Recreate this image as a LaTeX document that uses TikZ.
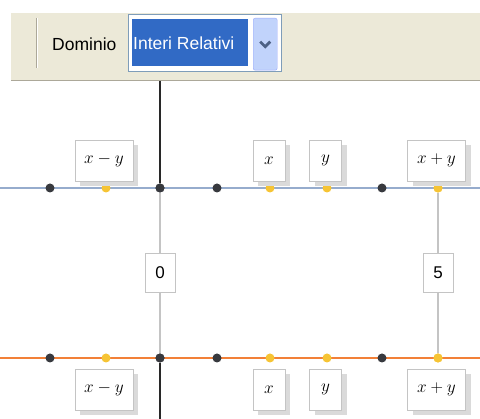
\documentclass[tikz,border=0pt]{standalone}
\usepackage{fontspec}
\setmainfont{Liberation Sans}
\usetikzlibrary{positioning,calc,shadows}
\definecolor{barbg}{RGB}{236,233,216}
\definecolor{barline}{RGB}{172,168,153}
\definecolor{combobd}{RGB}{127,157,185}
\definecolor{selblue}{RGB}{49,106,197}
\definecolor{btnblue}{RGB}{193,211,251}
\definecolor{chevron}{RGB}{77,97,133}
\definecolor{toplinec}{RGB}{150,172,205}
\definecolor{botlinec}{RGB}{242,128,56}
\definecolor{dotdark}{RGB}{55,57,62}
\definecolor{dotyel}{RGB}{246,196,52}
\definecolor{boxgray}{RGB}{196,196,196}
\definecolor{shadowgray}{RGB}{218,218,218}
\definecolor{axisc}{RGB}{40,40,40}
\tikzstyle{lbl} = [draw=boxgray, fill=white, minimum height=41pt, minimum width=58pt, inner sep=0pt, font=\fontsize{17}{19}\selectfont, drop shadow={shadow xshift=5pt, shadow yshift=-5pt, fill=shadowgray, opacity=1}]
\tikzstyle{slbl} = [lbl, minimum width=32pt]
\tikzstyle{num} = [draw=boxgray, fill=white, minimum width=30pt, minimum height=39pt, inner sep=0pt, font=\fontsize{17}{19}\selectfont]
\tikzstyle{kdot} = [circle, fill=dotdark, inner sep=0pt, minimum size=9pt]
\tikzstyle{ydot} = [circle, fill=dotyel, inner sep=0pt, minimum size=9pt]
\tikzstyle{link} = [draw=boxgray, line width=1.2pt]

\begin{document}
\begin{tikzpicture}[x=1pt,y=-1pt]
	\useasboundingbox (0,0) rectangle (480,419);

		% Toolbar
		\fill[barbg] (11,13) rectangle (480,80);
		\draw[barline, line width=1.2pt] (11,80.5) -- (480,80.5);
		\draw[barline, line width=1pt] (36,18) -- (36,68);
		\draw[white, line width=1pt] (37,18) -- (37,68);
		\node[anchor=west, font=\fontsize{17.5}{19}\selectfont, inner sep=0pt] (dom) at (52,44) {Dominio};
		\draw[combobd, fill=white, line width=1pt] (128.5,14.5) rectangle (281.5,71.5);
		\node[fill=selblue, anchor=north west, minimum width=116pt, minimum height=47pt, inner sep=0pt] (sel) at (132,19) {};
		\node[anchor=west, text=white, font=\fontsize{17.5}{19}\selectfont, inner sep=0pt] (val) at (133,43) {Interi Relativi};
		\node[fill=btnblue, draw=btnblue!80!blue, anchor=north west, minimum width=24pt, minimum height=52pt, inner sep=0pt, rounded corners=2pt] (btn) at (253,18) {};
		\draw[chevron, line width=2.8pt] ($(btn.center)+(-5,-2.5)$) -- ($(btn.center)+(0,2.5)$) -- ($(btn.center)+(5,-2.5)$);

		% Number lines
		\coordinate (tl) at (0,188);
		\coordinate (tr) at (480,188);
		\coordinate (bl) at (0,358);
		\coordinate (br) at (480,358);
		\draw[toplinec, line width=2.2pt] (tl) -- (tr);
		\draw[botlinec, line width=2.2pt] (bl) -- (br);

		% Axis
		\coordinate (axtop) at (160,81);
		\coordinate (axbot) at (160,419);

		% Dots on the upper line
		\node[kdot] (tk1) at (50,188) {};
		\node[ydot] (ty1) at (106,188) {};
		\node[kdot] (tk0) at (160,188) {};
		\node[kdot] (tk2) at (217,188) {};
		\node[ydot] (ty2) at (270,188) {};
		\node[ydot] (ty3) at (327,188) {};
		\node[kdot] (tk3) at (382,188) {};
		\node[ydot] (ty4) at (438,188) {};

		% Dots on the lower line
		\node[kdot] (bk1) at (50,358) {};
		\node[ydot] (by1) at (106,358) {};
		\node[kdot] (bk0) at (160,358) {};
		\node[kdot] (bk2) at (217,358) {};
		\node[ydot] (by2) at (270,358) {};
		\node[ydot] (by3) at (327,358) {};
		\node[kdot] (bk3) at (382,358) {};
		\node[ydot] (by4) at (438,358) {};

		% Values
		\node[num] (zero) at ($(tk0)!0.5!(bk0)$) {0};
		\node[num] (five) at ($(ty4)!0.5!(by4)$) {5};

		% Connect all nodes defined above
		\draw[axisc, line width=1.2pt] (axtop) -- (tk0);
		\draw[axisc, line width=1.2pt] (bk0) -- (axbot);
		\draw[link] (tk0) -- (zero);
		\draw[link] (zero) -- (bk0);
		\draw[link] (ty4) -- (five);
		\draw[link] (five) -- (by4);
		\node[kdot] at (tk0) {};
		\node[kdot] at (bk0) {};
		\node[ydot] at (ty4) {};
		\node[ydot] at (by4) {};

		% Labels above
		\node[lbl, above = 2pt of ty1, xshift=-2pt] (tdiff) {$x-y$};
		\node[slbl, above = 2pt of ty2, xshift=-1pt] (tx) {$x$};
		\node[slbl, above = 2pt of ty3, xshift=-1.5pt] (ty) {$y$};
		\node[lbl, above = 2pt of ty4, xshift=-1.5pt] (tsum) {$x+y$};

		% Labels below
		\node[lbl, below = 6pt of by1, xshift=-2pt] (bdiff) {$x-y$};
		\node[slbl, below = 6pt of by2, xshift=-1pt] (bx) {$x$};
		\node[slbl, below = 6pt of by3, xshift=-1.5pt] (by) {$y$};
		\node[lbl, below = 6pt of by4, xshift=-1.5pt] (bsum) {$x+y$};

	\end{tikzpicture}
\end{document}
